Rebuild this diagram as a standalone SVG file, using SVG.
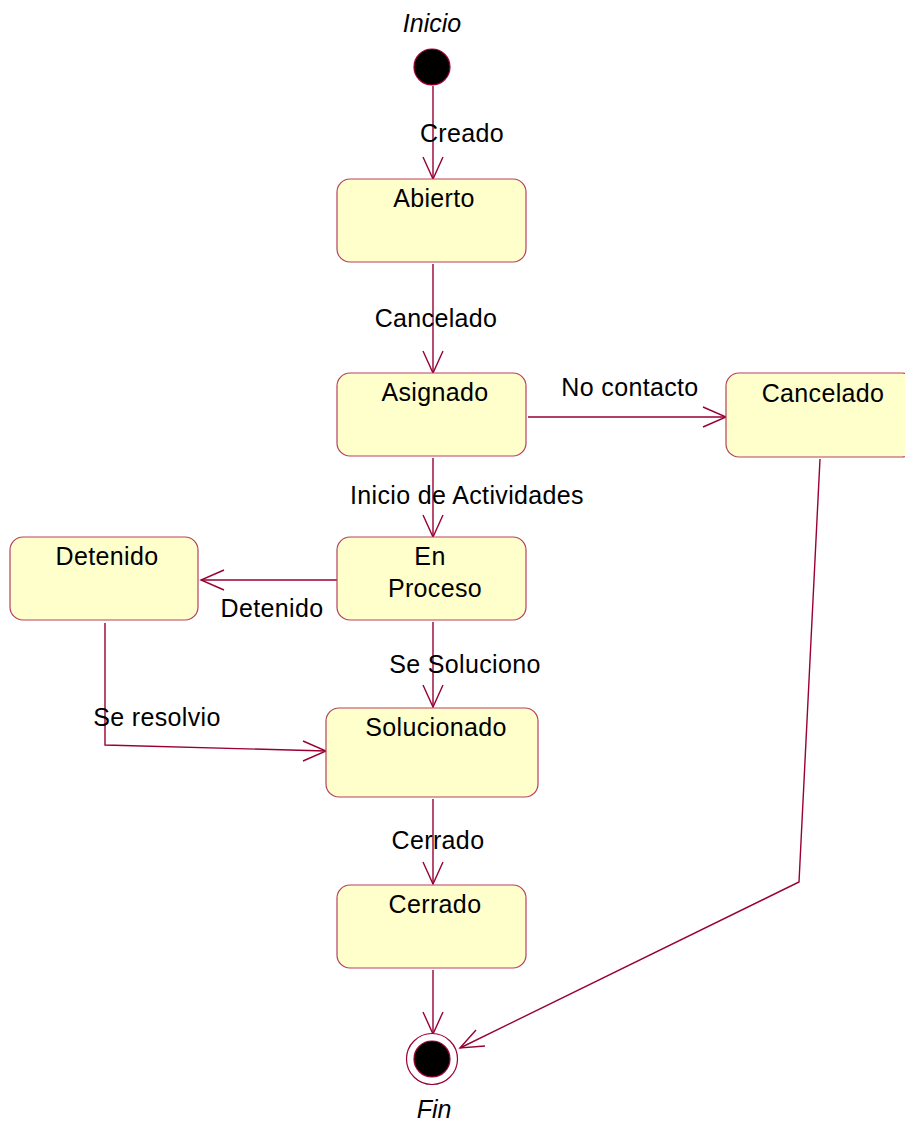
<svg xmlns="http://www.w3.org/2000/svg" width="905" height="1124" viewBox="0 0 905 1124">
  <defs>
    <style>
      .state { fill: #ffffcc; stroke: #b8405f; stroke-width: 1.2; }
      .name { font-family: "Liberation Sans", Arial, sans-serif; font-size: 25px; letter-spacing: 0.35px; fill: #000; text-anchor: middle; }
      .label { font-family: "Liberation Sans", Arial, sans-serif; font-size: 25px; letter-spacing: 0.35px; fill: #000; text-anchor: middle; }
      .pseudo { font-family: "Liberation Sans", Arial, sans-serif; font-size: 25px; font-style: italic; fill: #000; text-anchor: middle; }
      .edge { fill: none; stroke: #990033; stroke-width: 1.4; }
      .head { fill: none; stroke: #990033; stroke-width: 1.4; }
    </style>
  </defs>
  <rect width="905" height="1124" fill="#ffffff"/>

  <!-- transitions -->
  <g id="connectors">
    <!-- Inicio -> Abierto -->
    <path class="edge" d="M433 86 V179"/>
    <path class="head" d="M423 157 L433 179 L443 157"/>
    <text class="label" x="462" y="142">Creado</text>

    <!-- Abierto -> Asignado -->
    <path class="edge" d="M433 264 V373"/>
    <path class="head" d="M423 351 L433 373 L443 351"/>
    <text class="label" x="436" y="327">Cancelado</text>

    <!-- Asignado -> Cancelado -->
    <path class="edge" d="M528 417 H726"/>
    <path class="head" d="M703 407 L726 417 L703 427"/>
    <text class="label" x="630" y="396">No contacto</text>

    <!-- Asignado -> En Proceso -->
    <path class="edge" d="M433 458 V537"/>
    <path class="head" d="M423 515 L433 537 L443 515"/>
    <text class="label" x="467" y="504">Inicio de Actividades</text>

    <!-- En Proceso -> Detenido -->
    <path class="edge" d="M337 580 H201"/>
    <path class="head" d="M224 570 L201 580 L224 590"/>
    <text class="label" x="272" y="617">Detenido</text>

    <!-- En Proceso -> Solucionado -->
    <path class="edge" d="M433 622 V707"/>
    <path class="head" d="M423 685 L433 707 L443 685"/>
    <text class="label" x="465" y="673">Se Soluciono</text>

    <!-- Detenido -> Solucionado -->
    <path class="edge" d="M105 623 V745 L326 751"/>
    <path class="head" d="M303 741 L326 751 L303 761"/>
    <text class="label" x="157" y="726">Se resolvio</text>

    <!-- Solucionado -> Cerrado -->
    <path class="edge" d="M433 799 V884"/>
    <path class="head" d="M423 862 L433 884 L443 862"/>
    <text class="label" x="438" y="849">Cerrado</text>

    <!-- Cerrado -> Fin -->
    <path class="edge" d="M433 970 V1034"/>
    <path class="head" d="M423 1012 L433 1034 L443 1012"/>

    <!-- Cancelado -> Fin -->
    <path class="edge" d="M820 459 L799 882 L460 1048"/>
    <path class="head" d="M476 1030 L460 1048 L485 1046"/>
  </g>

  <!-- initial pseudostate -->
  <g id="inicio">
    <circle cx="432" cy="67" r="18" fill="#000" stroke="#990033" stroke-width="1.2"/>
    <text class="pseudo" x="432" y="32">Inicio</text>
  </g>

  <g id="abierto">
    <rect class="state" x="337" y="179" width="189" height="83" rx="13"/>
    <text class="name" x="434" y="207">Abierto</text>
  </g>

  <g id="asignado">
    <rect class="state" x="337" y="373" width="189" height="83" rx="13"/>
    <text class="name" x="435" y="401">Asignado</text>
  </g>

  <g id="cancelado">
    <rect class="state" x="726" y="373" width="189" height="84" rx="13"/>
    <text class="name" x="823" y="402">Cancelado</text>
  </g>

  <g id="en-proceso">
    <rect class="state" x="337" y="537" width="189" height="83" rx="13"/>
    <text class="name" x="430" y="565">En</text>
    <text class="name" x="435" y="597">Proceso</text>
  </g>

  <g id="detenido">
    <rect class="state" x="10" y="537" width="188" height="83" rx="13"/>
    <text class="name" x="107" y="565">Detenido</text>
  </g>

  <g id="solucionado">
    <rect class="state" x="326" y="708" width="212" height="89" rx="13"/>
    <text class="name" x="436" y="736">Solucionado</text>
  </g>

  <g id="cerrado">
    <rect class="state" x="337" y="885" width="189" height="83" rx="13"/>
    <text class="name" x="435" y="913">Cerrado</text>
  </g>

  <!-- final pseudostate -->
  <g id="fin">
    <circle cx="432" cy="1059" r="25.5" fill="#ffffff" stroke="#990033" stroke-width="1.2"/>
    <circle cx="432" cy="1059" r="18" fill="#000" stroke="#990033" stroke-width="1.2"/>
    <text class="pseudo" x="434" y="1118">Fin</text>
  </g>
</svg>
